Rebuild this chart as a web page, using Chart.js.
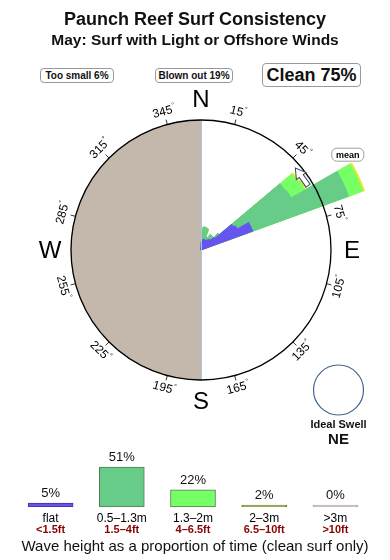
<!DOCTYPE html>
<html>
<head>
<meta charset="utf-8">
<script src="https://cdn.jsdelivr.net/npm/chart.js@4.4.0/dist/chart.umd.min.js"></script>
<style>
body { margin: 0; width: 390px; height: 560px; position: relative; background: #fff; overflow: hidden;
       font-family: "Liberation Sans", Arial, sans-serif; color: #111; }
canvas { position: absolute; left: 0; }
#rose { top: 0; }
#bars { top: 430px; }
.t { position: absolute; left: 0; width: 390px; text-align: center; font-weight: bold; }
#title { top: 9px; font-size: 18px; line-height: 21px; }
#sub { top: 31px; font-size: 15.5px; line-height: 18px; }
#caption { top: 537px; font-size: 15px; line-height: 18px; font-weight: normal; }
.box { position: absolute; box-sizing: border-box; border: 1px solid #999; border-radius: 4px;
       text-align: center; font-weight: bold; background: #fff; }
.small { top: 68px; height: 15px; font-size: 10px; line-height: 13px; }
#clean { left: 262px; top: 63px; width: 99px; height: 24px; font-size: 18px; line-height: 22px; }
</style>
</head>
<body>
<canvas id="rose" width="390" height="560"></canvas>
<canvas id="bars" width="390" height="130"></canvas>
<div class="t" id="title">Paunch Reef Surf Consistency</div>
<div class="t" id="sub">May: Surf with Light or Offshore Winds</div>
<div class="box small" style="left:40px;width:74px">Too small 6%</div>
<div class="box small" style="left:155px;width:78px">Blown out 19%</div>
<div class="box" id="clean">Clean 75%</div>
<div class="t" id="caption">Wave height as a proportion of time (clean surf only)</div>
<script>
// swell direction bins (start of each 5 degree bin) and radial length of each height band
var swellDirs = [0, 5, 10, 15, 20, 25, 30, 35, 40, 45, 50, 55, 60, 65];
var flatLen   = [8, 10, 11, 11, 10, 11, 12, 13, 14, 18, 40, 42, 55, 55];
var smallLen  = [2, 13, 12, 11, 4, 3, 6, 5, 3, 6, 63, 62, 102, 102];
var midLen    = [0, 0, 0, 0, 0, 0, 0, 0, 0, 0, 15, 16, 15, 15];
var bigLen    = [0, 0, 0, 0, 0, 0, 0, 0, 0, 0, 2, 2, 2, 2];

var binWidth = 5;
var ringValue = 130;          // the black ring
var scaleMax = 180;
var blownShade = [0, ringValue]; // east half clear, west half shaded
var tickDirs = [15, 45, 75, 105, 135, 165, 195, 225, 255, 285, 315, 345];
var cardinals = [['N', 0], ['E', 90], ['S', 180], ['W', 270]];
var meanDir = 54;

// bottom bar chart
var sizeLabels = ['flat', '0.5–1.3m', '1.3–2m', '2–3m', '>3m'];
var ftLabels = ['<1.5ft', '1.5–4ft', '4–6.5ft', '6.5–10ft', '>10ft'];
var sizeShare = [5, 51, 22, 2, 0];

var bandColors = ['#6655ee', '#66cc88', '#77ff66', '#e8e833', '#ccbbbb'];
var barColors = ['#6655ee', '#66cc88', '#77ff66', '#bbcc33', '#ccbbbb'];
var greyHalf = '#c4b8ac';

var binCount = 360 / binWidth;
function toBins(values) {
    var out = new Array(binCount).fill(0);
    swellDirs.forEach(function(d, i) { out[d / binWidth] = values[i]; });
    return out;
}
var bFlat = toBins(flatLen), bSmall = toBins(smallLen), bMid = toBins(midLen), bBig = toBins(bigLen);
var stack1 = bFlat;
var stack2 = stack1.map(function(v, i) { return v + bSmall[i]; });
var stack3 = stack2.map(function(v, i) { return v + bMid[i]; });
var stack4 = stack3.map(function(v, i) { return v + bBig[i]; });
var binLabels = new Array(binCount).fill(0).map(function(v, i) { return i * binWidth + '°'; });

function roseSet(data, color) {
    return {
        data: data,
        backgroundColor: color,
        borderColor: color,
        borderWidth: function(c) { return c.raw > 0 ? 1 : 0; }
    };
}

var roseDeco = {
    id: 'roseDeco',
    afterDatasetsDraw: function(chart) {
        var r = chart.scales.r;
        var ctx = chart.ctx;
        var cx = r.xCenter, cy = r.yCenter;
        var R = r.getDistanceFromCenterForValue(ringValue);
        var pt = function(deg, rad) {
            var a = deg * Math.PI / 180;
            return [cx + rad * Math.sin(a), cy - rad * Math.cos(a)];
        };
        ctx.save();
        // north-south line
        ctx.strokeStyle = '#a9c6e6';
        ctx.lineWidth = 1;
        ctx.beginPath();
        ctx.moveTo(cx + 0.5, cy - R);
        ctx.lineTo(cx + 0.5, cy + R);
        ctx.stroke();
        // ring
        ctx.strokeStyle = '#000';
        ctx.lineWidth = 1.3;
        ctx.beginPath();
        ctx.arc(cx, cy, R, 0, 2 * Math.PI);
        ctx.stroke();
        // ticks and degree labels
        ctx.lineWidth = 0.8;
        ctx.fillStyle = '#000';
        tickDirs.forEach(function(d) {
            var a = pt(d, R), b = pt(d, R + 5);
            ctx.beginPath();
            ctx.moveTo(a[0], a[1]);
            ctx.lineTo(b[0], b[1]);
            ctx.stroke();
            var p = pt(d, R + 13);
            var rot = (d > 90 && d < 270) ? d - 180 : d;
            ctx.save();
            ctx.translate(p[0], p[1]);
            ctx.rotate(rot * Math.PI / 180);
            ctx.font = '12px "Liberation Sans", Arial, sans-serif';
            var num = String(d);
            var w1 = ctx.measureText(num).width;
            ctx.font = '7px "Liberation Sans", Arial, sans-serif';
            var w2 = ctx.measureText('°').width;
            var x0 = -(w1 + w2) / 2;
            ctx.textAlign = 'left';
            ctx.textBaseline = 'middle';
            ctx.font = '12px "Liberation Sans", Arial, sans-serif';
            ctx.fillText(num, x0, 0);
            ctx.font = '7px "Liberation Sans", Arial, sans-serif';
            ctx.fillText('°', x0 + w1 + 0.5, -4);
            ctx.restore();
        });
        // cardinal letters
        ctx.font = '24px "Liberation Sans", Arial, sans-serif';
        ctx.textAlign = 'center';
        ctx.textBaseline = 'middle';
        cardinals.forEach(function(c) {
            var p = pt(c[1], R + 21);
            ctx.fillText(c[0], p[0], p[1] + 1);
        });
        // mean arrow, drawn along the ring
        var tip = pt(meanDir - 5, R - 5), tail = pt(meanDir + 5, R - 5);
        var ang = Math.atan2(tip[1] - tail[1], tip[0] - tail[0]);
        var len = Math.hypot(tip[0] - tail[0], tip[1] - tail[1]);
        ctx.save();
        ctx.translate(tail[0], tail[1]);
        ctx.rotate(ang);
        ctx.beginPath();
        ctx.moveTo(0, -2.5);
        ctx.lineTo(len - 10, -2.5);
        ctx.lineTo(len - 10, -6);
        ctx.lineTo(len, 0);
        ctx.lineTo(len - 10, 6);
        ctx.lineTo(len - 10, 2.5);
        ctx.lineTo(0, 2.5);
        ctx.closePath();
        ctx.fillStyle = '#fff';
        ctx.fill();
        ctx.strokeStyle = '#334466';
        ctx.lineWidth = 1;
        ctx.stroke();
        ctx.restore();
        // mean label
        var m = pt(meanDir + 3, R + 45);
        ctx.beginPath();
        ctx.roundRect(m[0] - 16, m[1] - 6.5, 32, 13, 5);
        ctx.fillStyle = '#fff';
        ctx.fill();
        ctx.strokeStyle = '#888';
        ctx.stroke();
        ctx.fillStyle = '#000';
        ctx.font = 'bold 9px "Liberation Sans", Arial, sans-serif';
        ctx.fillText('mean', m[0], m[1] + 0.5);
        // ideal swell marker
        ctx.beginPath();
        ctx.arc(cx + 137.5, cy + 140, 25, 0, 2 * Math.PI);
        ctx.strokeStyle = '#46658a';
        ctx.lineWidth = 1.2;
        ctx.stroke();
        ctx.fillStyle = '#111';
        ctx.font = 'bold 11px "Liberation Sans", Arial, sans-serif';
        ctx.fillText('Ideal Swell', cx + 137.5, cy + 175);
        ctx.font = 'bold 15px "Liberation Sans", Arial, sans-serif';
        ctx.fillText('NE', cx + 137.5, cy + 190);
        ctx.restore();
    }
};

new Chart(document.getElementById('rose'), {
    type: 'polarArea',
    data: {
        labels: binLabels,
        datasets: [
            roseSet(stack1, bandColors[0]),
            roseSet(stack2, bandColors[1]),
            roseSet(stack3, bandColors[2]),
            roseSet(stack4, bandColors[3]),
            roseSet(blownShade, greyHalf)
        ]
    },
    options: {
        responsive: false,
        animation: false,
        layout: { padding: { left: 21, right: 9, top: 70, bottom: 130 } },
        plugins: { legend: { display: false }, tooltip: { enabled: false } },
        scales: {
            r: {
                min: 0,
                max: scaleMax,
                startAngle: 0,
                ticks: { display: false },
                grid: { display: false },
                angleLines: { display: false },
                pointLabels: { display: false }
            }
        }
    },
    plugins: [roseDeco]
});

var pctLabels = {
    id: 'pctLabels',
    afterDatasetsDraw: function(chart) {
        var ctx = chart.ctx;
        ctx.save();
        ctx.fillStyle = '#111';
        ctx.font = '13px "Liberation Sans", Arial, sans-serif';
        ctx.textAlign = 'center';
        ctx.textBaseline = 'bottom';
        chart.getDatasetMeta(0).data.forEach(function(bar, i) {
            ctx.fillText(sizeShare[i] + '%', bar.x, bar.y - 3);
        });
        ctx.restore();
    }
};

new Chart(document.getElementById('bars'), {
    type: 'bar',
    data: {
        labels: sizeLabels,
        datasets: [{
            data: sizeShare,
            backgroundColor: barColors,
            borderColor: ['#443399', '#557755', '#557755', '#777733', '#bbaaaa'],
            borderWidth: 1,
            borderSkipped: false,
            barThickness: 45,
            minBarLength: 2
        }]
    },
    options: {
        responsive: false,
        animation: false,
        layout: { padding: { left: 15, right: 19, top: 30, bottom: 23 } },
        plugins: { legend: { display: false }, tooltip: { enabled: false } },
        scales: {
            y: { display: false, min: 0, max: 60 },
            x: {
                position: 'bottom',
                weight: 1,
                grid: { display: false, drawTicks: false },
                border: { display: false },
                ticks: { color: '#000', font: { size: 12 }, padding: 4, maxRotation: 0, autoSkip: false },
                afterFit: function(s) { s.height = 16; }
            },
            x2: {
                type: 'category',
                labels: ftLabels,
                position: 'bottom',
                weight: 2,
                grid: { display: false, drawTicks: false },
                border: { display: false },
                ticks: { color: '#880000', font: { size: 11, weight: 'bold' }, padding: 0, maxRotation: 0, autoSkip: false },
                afterFit: function(s) { s.height = 14; }
            }
        }
    },
    plugins: [pctLabels]
});
</script>
</body>
</html>
